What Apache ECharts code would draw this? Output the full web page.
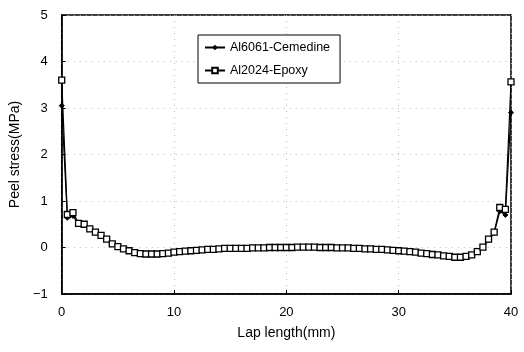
<!DOCTYPE html>
<html>
<head>
<meta charset="utf-8">
<script src="https://cdn.jsdelivr.net/npm/echarts@6/dist/echarts.min.js"></script>
<style>
  html, body { margin: 0; padding: 0; background: #fff; }
  #chart { width: 524px; height: 352px; }
</style>
</head>
<body>
<div id="chart"></div>
<script>
// lap length positions (mm)
const lapX = [
  0, 0.5, 1, 1.5, 2, 2.5, 3, 3.5, 4, 4.5, 5, 5.5, 6, 6.5, 7, 7.5, 8, 8.5, 9, 9.5,
  10, 10.5, 11, 11.5, 12, 12.5, 13, 13.5, 14, 14.5, 15, 15.5, 16, 16.5, 17, 17.5, 18, 18.5, 19, 19.5,
  20, 20.5, 21, 21.5, 22, 22.5, 23, 23.5, 24, 24.5, 25, 25.5, 26, 26.5, 27, 27.5, 28, 28.5, 29, 29.5,
  30, 30.5, 31, 31.5, 32, 32.5, 33, 33.5, 34, 34.5, 35, 35.5, 36, 36.5, 37, 37.5, 38, 38.5, 39, 39.5, 40
];

const cemedine = [
  3.05, 0.64, 0.68, 0.50, 0.48, 0.39, 0.32, 0.25, 0.17, 0.07, 0.01, -0.04, -0.08, -0.11, -0.13, -0.14, -0.14, -0.14, -0.13, -0.12,
  -0.10, -0.09, -0.08, -0.07, -0.06, -0.05, -0.04, -0.04, -0.03, -0.02, -0.02, -0.02, -0.02, -0.02, -0.01, -0.01, -0.01, 0.00, 0.00, 0.00,
  0.00, 0.00, 0.01, 0.01, 0.01, 0.01, 0.00, 0.00, 0.00, -0.01, -0.01, -0.01, -0.02, -0.02, -0.03, -0.03, -0.04, -0.04, -0.05, -0.06,
  -0.07, -0.08, -0.09, -0.10, -0.12, -0.13, -0.15, -0.16, -0.18, -0.19, -0.21, -0.21, -0.19, -0.16, -0.10, 0.00, 0.16, 0.31, 0.78, 0.70, 2.90
];

const epoxy = [
  3.60, 0.71, 0.75, 0.52, 0.50, 0.40, 0.33, 0.26, 0.18, 0.08, 0.02, -0.03, -0.07, -0.11, -0.13, -0.14, -0.14, -0.14, -0.13, -0.12,
  -0.10, -0.09, -0.08, -0.07, -0.06, -0.05, -0.04, -0.04, -0.03, -0.02, -0.02, -0.02, -0.02, -0.02, -0.01, -0.01, -0.01, 0.00, 0.00, 0.00,
  0.00, 0.00, 0.01, 0.01, 0.01, 0.01, 0.00, 0.00, 0.00, -0.01, -0.01, -0.01, -0.02, -0.02, -0.03, -0.03, -0.04, -0.04, -0.05, -0.06,
  -0.07, -0.08, -0.09, -0.10, -0.12, -0.13, -0.15, -0.16, -0.18, -0.19, -0.21, -0.21, -0.19, -0.16, -0.09, 0.01, 0.18, 0.33, 0.86, 0.82, 3.56
];

const seriesNames = ['Al6061-Cemedine', 'Al2024-Epoxy'];

const font = 'Liberation Sans, Arial, sans-serif';

const chart = echarts.init(document.getElementById('chart'), null, { renderer: 'canvas' });

const gridLine = {
  show: true,
  lineStyle: { color: '#bbb', type: [1, 5], width: 1 }
};

chart.setOption({
  animation: false,
  backgroundColor: '#fff',
  grid: {
    left: 58,
    right: 13,
    top: 15,
    bottom: 58,
    show: true,
    borderColor: '#000',
    borderWidth: 1.5
  },
  legend: {
    left: 198,
    top: 35,
    orient: 'vertical',
    itemGap: 10,
    itemWidth: 20,
    itemHeight: 7,
    padding: [6, 10, 6, 6],
    borderColor: '#000',
    borderWidth: 1,
    backgroundColor: '#fff',
    textStyle: { color: '#000', fontSize: 12.5, fontFamily: font },
    data: seriesNames
  },
  xAxis: {
    type: 'value',
    min: 0,
    max: 40,
    interval: 10,
    name: 'Lap length(mm)',
    nameLocation: 'middle',
    nameGap: 32,
    nameTextStyle: { color: '#000', fontSize: 14, fontFamily: font },
    axisLine: { show: true, onZero: false, lineStyle: { color: '#000', width: 1.5 } },
    axisTick: { show: true, inside: true, length: 4, lineStyle: { color: '#000' } },
    axisLabel: { color: '#000', fontSize: 13, fontFamily: font, margin: 12 },
    splitLine: gridLine
  },
  yAxis: {
    type: 'value',
    min: -1,
    max: 5,
    interval: 1,
    name: 'Peel stress(MPa)',
    nameLocation: 'middle',
    nameGap: 34,
    nameTextStyle: { color: '#000', fontSize: 14, fontFamily: font },
    axisLine: { show: true, onZero: false, lineStyle: { color: '#000', width: 1.5 } },
    axisTick: { show: true, inside: true, length: 4, lineStyle: { color: '#000' } },
    axisLabel: {
      color: '#000', fontSize: 13, fontFamily: font, margin: 14,
      formatter: v => (v < 0 ? '\u2212' + Math.abs(v) : String(v))
    },
    splitLine: gridLine
  },
  series: [
    {
      name: seriesNames[0],
      type: 'line',
      data: lapX.map((x, i) => [x, cemedine[i]]),
      symbol: 'diamond',
      symbolSize: 5,
      showAllSymbol: true,
      lineStyle: { color: '#000', width: 1.2 },
      itemStyle: { color: '#000', borderColor: '#000' },
      z: 2
    },
    {
      name: seriesNames[1],
      type: 'line',
      data: lapX.map((x, i) => [x, epoxy[i]]),
      symbol: 'rect',
      symbolSize: 6,
      showAllSymbol: true,
      lineStyle: { color: '#000', width: 1.2 },
      itemStyle: { color: '#fff', borderColor: '#000', borderWidth: 1.3 },
      z: 3
    }
  ]
});
</script>
</body>
</html>
